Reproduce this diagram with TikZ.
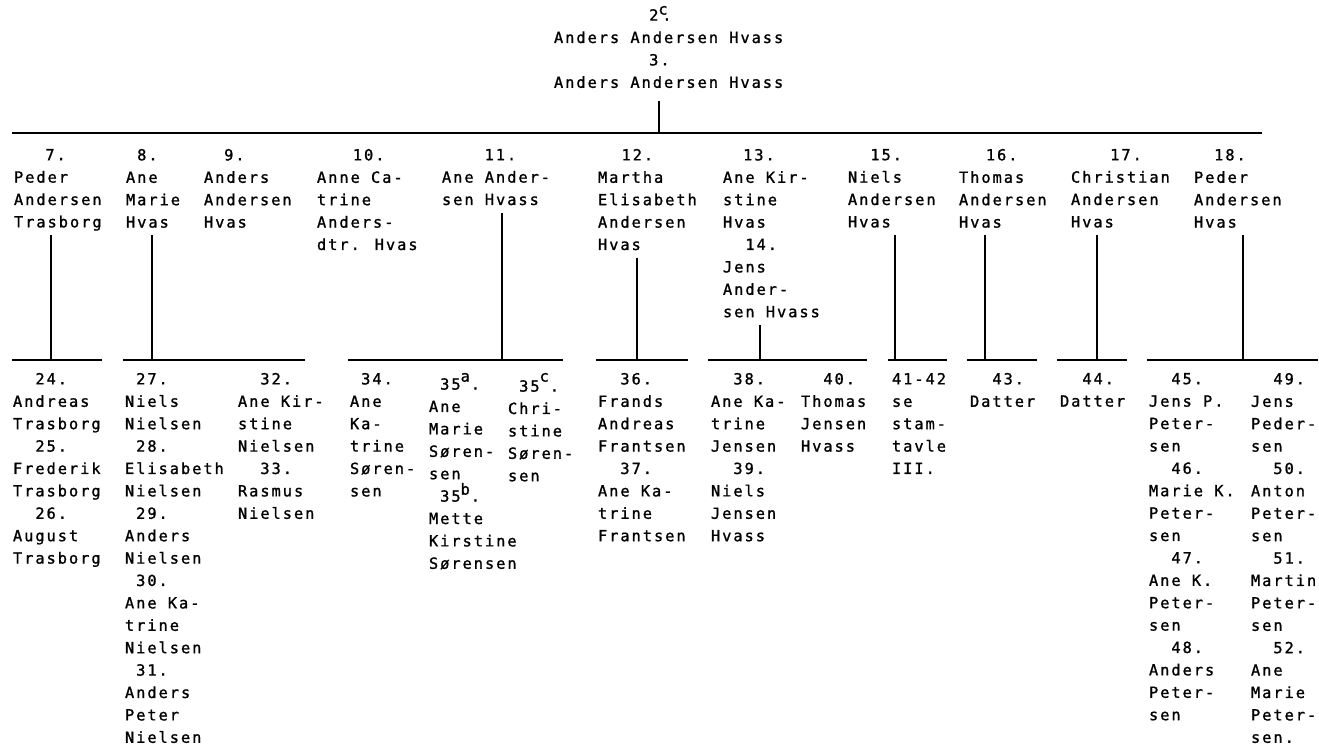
\documentclass[tikz,border=0pt]{standalone}
\usepackage{fontspec}
\newfontfamily\typewr{DejaVu Sans Mono}[LetterSpace=12.84,FakeBold=1.2]
\newcommand\tw{\typewr\fontsize{11.5pt}{16.8pt}\selectfont}
\newlength\cw
\setlength\cw{8.4pt}
\newcommand\sk[1]{\hspace*{#1\cw}}
\newcommand\hx[2]{\makebox[0.9\cw][l]{\raisebox{#1}{#2}}}

\begin{document}
\begin{tikzpicture}[x=0.75pt,y=-0.75pt,line width=1.5pt,
    entry/.style={anchor=north west,inner sep=0pt,align=left,font=\tw,
                  execute at begin node=\strut}]
                \useasboundingbox (0,0) rectangle (1319,747);

                \node[entry] (hvass3) at (553,5) {\sk{8.5}2\makebox[0.35\cw][l]{\raisebox{4.5pt}{c}}.\\Anders Andersen Hvass\\\sk{8.5}3.\\Anders Andersen Hvass};
                \coordinate (T) at (659,133);
                \draw (12,133) -- (1262,133);
                \draw[shorten <=4pt] (hvass3.south -| T) -- (T);

                \node[entry] (p7) at (13,148) {\sk{2.8}7.\\Peder\\Andersen\\Trasborg};
                \node[entry] (p8) at (125,148) {\sk{1}8.\\Ane\\Marie\\Hvas};
                \node[entry] (p9) at (203,148) {\sk{1.8}9.\\Anders\\Andersen\\Hvas};
                \node[entry] (p10) at (316,148) {\sk{3.2}10.\\Anne Ca-\\trine\\Anders-\\dtr. Hvas};
                \node[entry] (p11) at (441,148) {\sk{3.8}11.\\Ane Ander-\\sen Hvass};
                \node[entry] (p12) at (597,148) {\sk{2.1}12.\\Martha\\Elisabeth\\Andersen\\Hvas};
                \node[entry] (p13) at (722,148) {\sk{1.8}13.\\Ane Kir-\\stine\\Hvas\\\sk{2}14.\\Jens\\Ander-\\sen Hvass};
                \node[entry] (p15) at (847,148) {\sk{2}15.\\Niels\\Andersen\\Hvas};
                \node[entry] (p16) at (958,148) {\sk{2.4}16.\\Thomas\\Andersen\\Hvas};
                \node[entry] (p17) at (1070,148) {\sk{3.5}17.\\Christian\\Andersen\\Hvas};
                \node[entry] (p18) at (1193,148) {\sk{1.8}18.\\Peder\\Andersen\\Hvas};

                \coordinate (f7) at (51,360);
                \draw (12,360) -- (102,360);
                \draw (p7.south -| f7) -- (f7);

                \coordinate (f8) at (152,360);
                \draw (123,360) -- (305,360);
                \draw (p8.south -| f8) -- (f8);

                \coordinate (f11) at (502,360);
                \draw (348,360) -- (563,360);
                \draw (p11.south -| f11) -- (f11);

                \coordinate (f12) at (637,360);
                \draw (596,360) -- (688,360);
                \draw (p12.south -| f12) -- (f12);

                \coordinate (f14) at (760,360);
                \draw (708,360) -- (867,360);
                \draw (p13.south -| f14) -- (f14);

                \coordinate (f15) at (895,360);
                \draw (888,360) -- (947,360);
                \draw (p15.south -| f15) -- (f15);

                \coordinate (f16) at (985,360);
                \draw (967,360) -- (1037,360);
                \draw (p16.south -| f16) -- (f16);

                \coordinate (f17) at (1097,360);
                \draw (1057,360) -- (1127,360);
                \draw (p17.south -| f17) -- (f17);

                \coordinate (f18) at (1243,360);
                \draw (1147,360) -- (1318,360);
                \draw (p18.south -| f18) -- (f18);

                \node[entry] (p24) at (12,372) {\sk{2}24.\\Andreas\\Trasborg\\\sk{2}25.\\Frederik\\Trasborg\\\sk{2}26.\\August\\Trasborg};
                \node[entry] (p27) at (124,372) {\sk{1}27.\\Niels\\Nielsen\\\sk{1}28.\\Elisabeth\\Nielsen\\\sk{1}29.\\Anders\\Nielsen\\\sk{1}30.\\Ane Ka-\\trine\\Nielsen\\\sk{1}31.\\Anders\\Peter\\Nielsen};
                \node[entry] (p32) at (237,372) {\sk{2}32.\\Ane Kir-\\stine\\Nielsen\\\sk{2}33.\\Rasmus\\Nielsen};
                \node[entry] (p34) at (349,372) {\sk{1}34.\\Ane\\Ka-\\trine\\Søren-\\sen};
                \node[entry] (p35a) at (428,372) {\sk{1}35\hx{6pt}{a}.\\Ane\\Marie\\Søren-\\sen\\\sk{1}35\hx{5.2pt}{b}.\\Mette\\Kirstine\\Sørensen};
                \node[entry] (p35c) at (507,372) {\sk{1}35\hx{7.5pt}{c}.\\Chri-\\stine\\Søren-\\sen};
                \node[entry] (p36) at (597,372) {\sk{2}36.\\Frands\\Andreas\\Frantsen\\\sk{2}37.\\Ane Ka-\\trine\\Frantsen};
                \node[entry] (p38) at (710,372) {\sk{2}38.\\Ane Ka-\\trine\\Jensen\\\sk{2}39.\\Niels\\Jensen\\Hvass};
                \node[entry] (p40) at (800,372) {\sk{2}40.\\Thomas\\Jensen\\Hvass};
                \node[entry] (p41) at (891,372) {41-42\\se\\stam-\\tavle\\III.};
                \node[entry] (p43) at (969,372) {\sk{2}43.\\Datter};
                \node[entry] (p44) at (1059,372) {\sk{2}44.\\Datter};
                \node[entry] (p45) at (1148,372) {\sk{2}45.\\Jens P.\\Peter-\\sen\\\sk{2}46.\\Marie K.\\Peter-\\sen\\\sk{2}47.\\Ane K.\\Peter-\\sen\\\sk{2}48.\\Anders\\Peter-\\sen};
                \node[entry] (p49) at (1250,372) {\sk{2}49.\\Jens\\Peder-\\sen\\\sk{2}50.\\Anton\\Peter-\\sen\\\sk{2}51.\\Martin\\Peter-\\sen\\\sk{2}52.\\Ane\\Marie\\Peter-\\sen.};
            \end{tikzpicture}
\end{document}
